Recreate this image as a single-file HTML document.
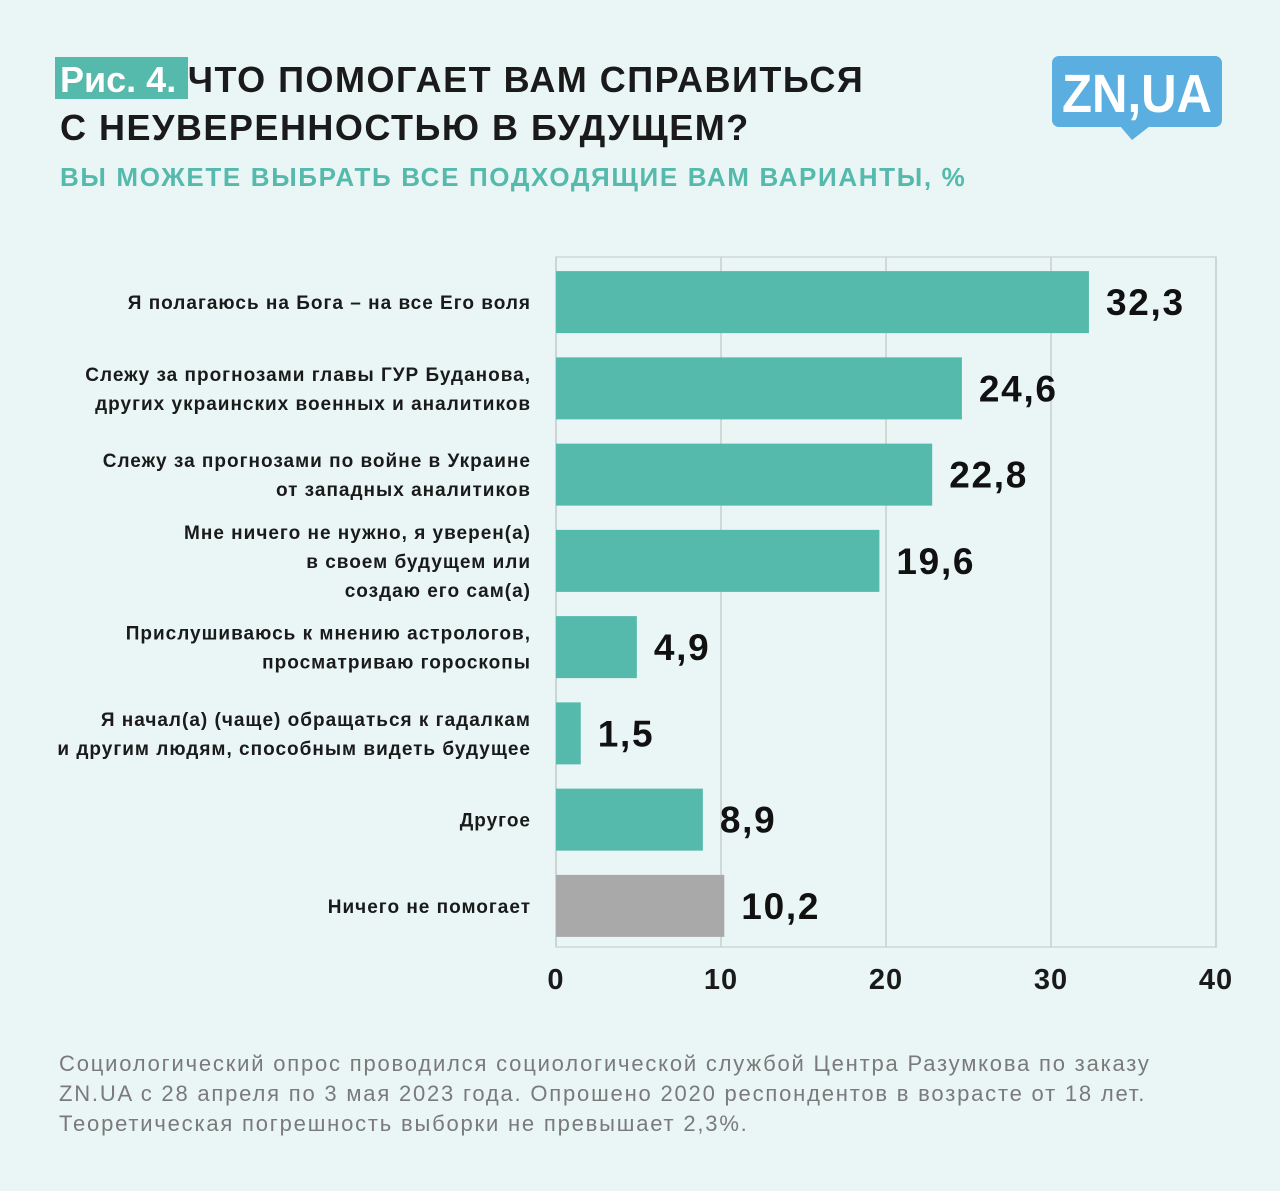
<!DOCTYPE html>
<html><head><meta charset="utf-8">
<style>
body{margin:0;width:1280px;height:1191px;background:#e9f6f5;font-family:"Liberation Sans","DejaVu Sans",sans-serif;overflow:hidden;position:relative}
.t{position:absolute;white-space:nowrap}
</style></head><body>
<div class="t" style="left:55px;top:57px;height:42px;width:133px;background:#55b9ab"></div>
<div class="t" style="left:60px;top:56px;font-size:36px;font-weight:bold;line-height:48px;color:#1a1a1a;letter-spacing:1.5px"><span style="color:#fff;letter-spacing:0">Рис. 4.</span> ЧТО ПОМОГАЕТ ВАМ СПРАВИТЬСЯ<br>С НЕУВЕРЕННОСТЬЮ В БУДУЩЕМ?</div>
<div class="t" style="left:60px;top:162px;font-size:26px;font-weight:bold;color:#55b9ab;letter-spacing:1.65px">ВЫ МОЖЕТЕ ВЫБРАТЬ ВСЕ ПОДХОДЯЩИЕ ВАМ ВАРИАНТЫ, %</div>
<svg class="t" style="left:1050px;top:54px" width="175" height="88">
<rect x="2" y="2" width="170" height="71" rx="7" fill="#5aaee0"/>
<polygon points="70,72 100,72 82,86" fill="#5aaee0"/>
<text x="87" y="58" text-anchor="middle" font-size="54" font-weight="bold" fill="#fff" font-family="Liberation Sans Narrow, Liberation Sans, sans-serif" textLength="150" lengthAdjust="spacingAndGlyphs">ZN,UA</text>
</svg>
<svg id="chart" class="t" style="left:0;top:0" width="1280" height="1040"></svg>
<div class="t" style="left:59px;top:1049px;font-size:22px;line-height:30px;color:#7a7a7a;letter-spacing:1.8px">Социологический опрос проводился социологической службой Центра Разумкова по заказу<br>ZN.UA с 28 апреля по 3 мая 2023 года. Опрошено 2020 респондентов в возрасте от 18 лет.<br>Теоретическая погрешность выборки не превышает 2,3%.</div>
<script>
const categories=[["Я полагаюсь на Бога – на все Его воля"],["Слежу за прогнозами главы ГУР Буданова,","других украинских военных и аналитиков"],["Слежу за прогнозами по войне в Украине","от западных аналитиков"],["Мне ничего не нужно, я уверен(а)","в своем будущем или","создаю его сам(а)"],["Прислушиваюсь к мнению астрологов,","просматриваю гороскопы"],["Я начал(а) (чаще) обращаться к гадалкам","и другим людям, способным видеть будущее"],["Другое"],["Ничего не помогает"]];
const values=[32.3,24.6,22.8,19.6,4.9,1.5,8.9,10.2];
const valueLabels=["32,3","24,6","22,8","19,6","4,9","1,5","8,9","10,2"];
const ticks=[0,10,20,30,40];
const svg=document.getElementById('chart');const NS="http://www.w3.org/2000/svg";
const X0=556,X1=1216,Y0=257,Y1=947,max=40;
const x=v=>X0+(X1-X0)*v/max;
const band=(Y1-Y0)/values.length;
const yc=i=>Y0+2+band*(i+0.5);
function mk(t,a){const e=document.createElementNS(NS,t);for(const k in a)e.setAttribute(k,a[k]);svg.appendChild(e);return e;}
let fr=mk('rect',{x:X0,y:Y0,width:X1-X0,height:Y1-Y0,fill:'none',stroke:'#d0d6d6','stroke-width':1.5});

ticks.forEach(t=>{const l=mk('line',{x1:x(t),x2:x(t),y1:Y0,y2:Y1,stroke:'#c8cece','stroke-width':1.5});

const tx=mk('text',{x:x(t),y:989,'text-anchor':'middle','font-size':29,'font-weight':'bold',fill:'#1a1a1a','letter-spacing':1});tx.textContent=t;
});
values.forEach((v,i)=>{const h=62;
const r=mk('rect',{x:X0,y:yc(i)-h/2,width:x(v)-X0,height:h,fill:i==7?'#a9a9a9':'#55b9ab'});

const vl=mk('text',{x:x(v)+17,y:yc(i)+13,'font-size':37,'font-weight':'bold',fill:'#111','letter-spacing':1.7});vl.textContent=valueLabels[i];

const lines=categories[i];const lh=29;
lines.forEach((s,j)=>{const ct=mk('text',{x:531,y:yc(i)+(j-(lines.length-1)/2)*lh+7,'text-anchor':'end','font-size':19,'font-weight':'bold',fill:'#1a1a1a','letter-spacing':1});ct.textContent=s;
});});
</script>
</body></html>
